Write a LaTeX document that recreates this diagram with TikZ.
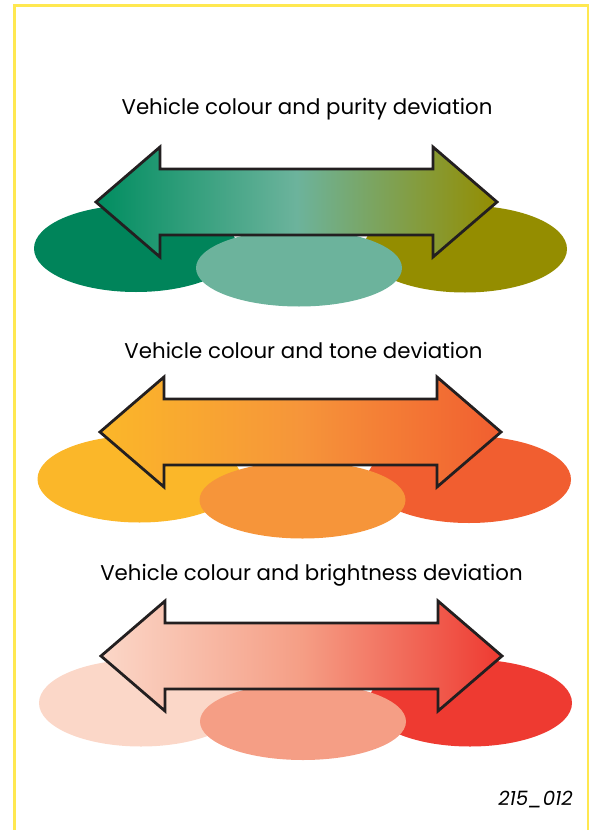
\documentclass[tikz,border=0pt]{standalone}
\usepackage{fontspec}
\setmainfont{Poppins}
\usepackage{tikz}
\definecolor{frameyellow}{RGB}{255,232,80}
\definecolor{outline}{RGB}{35,31,32}
% purity
\definecolor{green1}{RGB}{0,132,90}
\definecolor{green2}{RGB}{108,179,156}
\definecolor{green3}{RGB}{148,141,0}
\definecolor{greenA}{RGB}{0,141,96}
% tone
\definecolor{orange1}{RGB}{251,183,41}
\definecolor{orange2}{RGB}{246,149,58}
\definecolor{orange3}{RGB}{241,94,48}
% brightness
\definecolor{red1}{RGB}{251,215,200}
\definecolor{red2}{RGB}{245,158,133}
\definecolor{red3}{RGB}{238,58,49}

\tikzset{
  heading/.style={inner sep=0pt, font=\fontsize{21.4}{24}\selectfont},
  arrowline/.style={draw=outline, line width=2.8pt, line join=miter},
}

% double arrow: left tip x, tip y, left colour, middle colour, right colour
\newcommand{\devarrow}[5]{%
  \shade[arrowline, left color=#3, right color=#5, middle color=#4]
    (#1,#2) -- ++(64,-55) -- ++(0,22) -- ++(273,0) -- ++(0,-22)
    -- ++(64,55) -- ++(-64,55) -- ++(0,-22) -- ++(-273,0) -- ++(0,22) -- cycle;
}

\begin{document}
\begin{tikzpicture}[x=1bp, y=-1bp]
  \useasboundingbox (0,0) rectangle (591,830);
  \draw[frameyellow, line width=2.6pt] (14.7,830) -- (14.7,5.5) -- (588,5.5) -- (588,830);

  % purity
  \node[heading] (title1) at (307,109) {Vehicle colour and purity deviation};
  \fill[green1] (136,248.5) ellipse [x radius=102, y radius=43.5];
  \fill[green3] (465,249) ellipse [x radius=102, y radius=43.5];
  \fill[green2] (299,268) ellipse [x radius=103, y radius=38.5];
  \devarrow{96}{202}{greenA}{green2}{green3}

  % tone
  \node[heading] (title2) at (303.5,350) {Vehicle colour and tone deviation};
  \fill[orange1] (139.5,479) ellipse [x radius=102, y radius=43.5];
  \fill[orange3] (469,479.5) ellipse [x radius=102, y radius=43.5];
  \fill[orange2] (302.5,500) ellipse [x radius=103, y radius=38.5];
  \devarrow{100}{432}{orange1}{orange2}{orange3}

  % brightness
  \node[heading] (title3) at (311.5,575) {Vehicle colour and brightness deviation};
  \fill[red1] (141,703) ellipse [x radius=102, y radius=43.5];
  \fill[red3] (470,703) ellipse [x radius=102, y radius=43.5];
  \fill[red2] (303,721.5) ellipse [x radius=103, y radius=38.5];
  \devarrow{101}{656}{red1}{red2}{red3}

  \node[heading, anchor=east, font=\fontsize{19.8}{22}\selectfont\itshape] (code) at (573,800) {215\_012};
\end{tikzpicture}
\end{document}
